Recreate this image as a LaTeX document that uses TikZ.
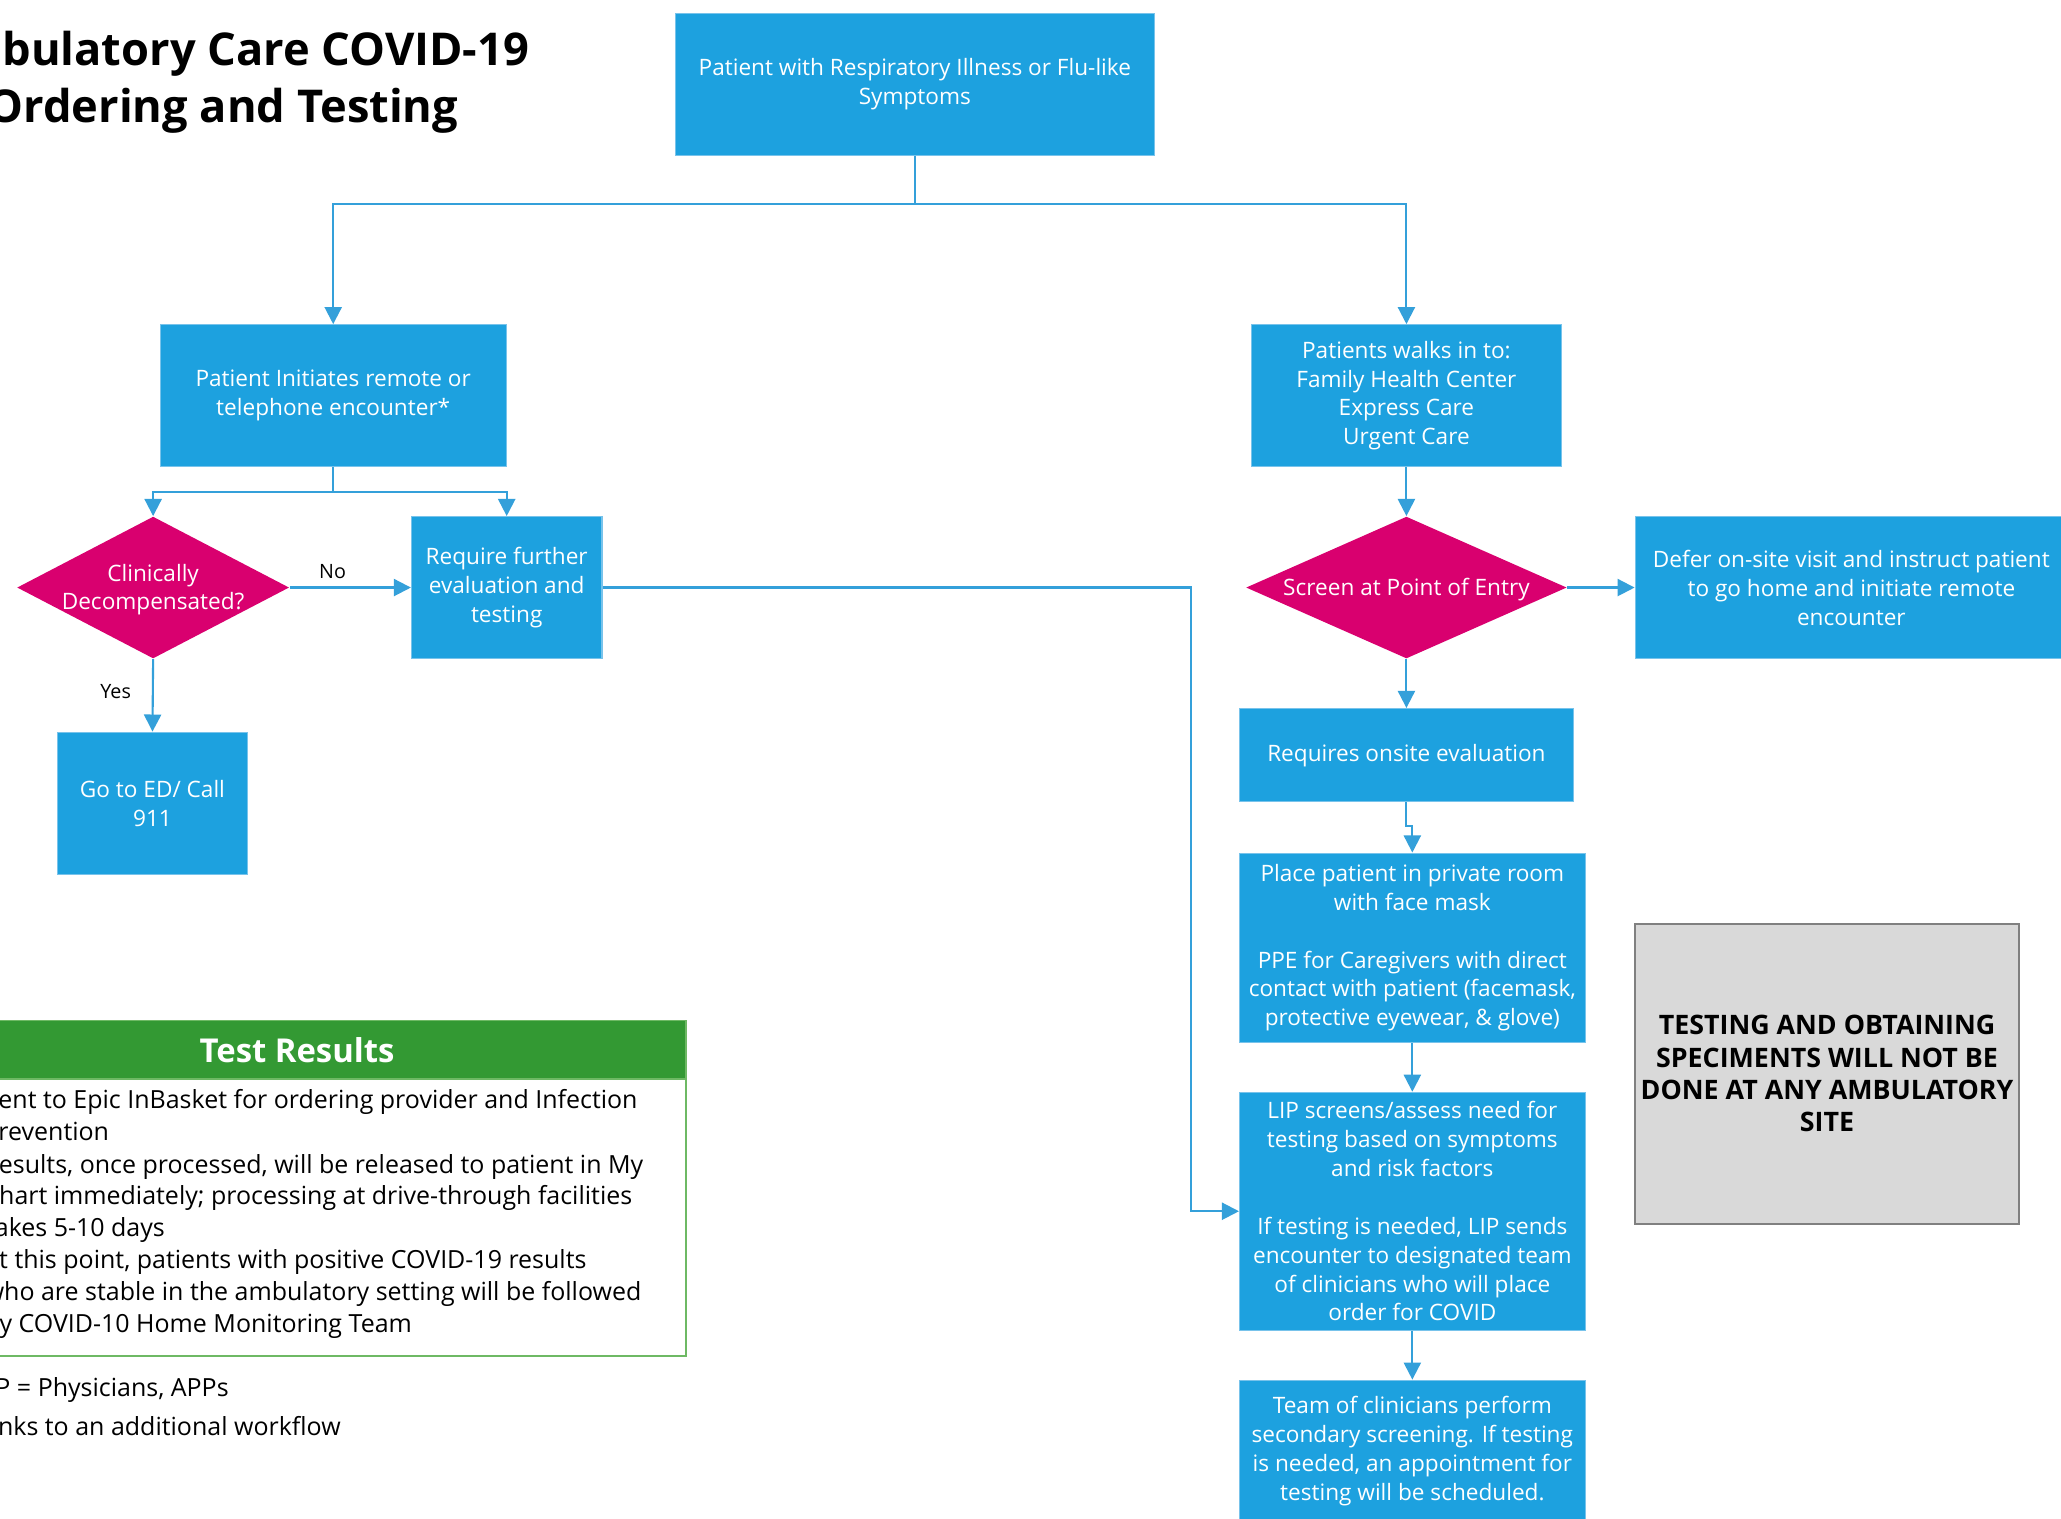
\documentclass[tikz,border=0pt]{standalone}
\usepackage{fontspec}
\setmainfont{Open Sans}
\usetikzlibrary{arrows.meta,shapes.geometric,calc}
\definecolor{boxblue}{RGB}{29,161,223}
\definecolor{boxedge}{RGB}{120,195,235}
\definecolor{dmag}{RGB}{217,0,111}
\definecolor{lineblue}{RGB}{52,160,218}
\definecolor{trgreen}{RGB}{51,153,51}
\definecolor{tredge}{RGB}{110,185,100}
\definecolor{grayfill}{RGB}{217,217,217}
\definecolor{grayedge}{RGB}{128,128,128}
\tikzset{
 proc/.style={rectangle, fill=boxblue, draw=boxedge, line width=0.4pt, text=white, align=center, inner sep=0pt, font=\fontsize{8.6}{11}\selectfont},
 dia/.style={diamond, fill=dmag, draw=none, inner sep=0pt},
 diatext/.style={text=white, align=center, inner sep=0pt, font=\fontsize{8.6}{11}\selectfont},
 conn/.style={draw=lineblue, line width=0.8pt},
 arr/.style={conn, -{Triangle[length=6.5pt,width=6.5pt]}},
 lbl/.style={text=black, inner sep=0pt, font=\fontsize{7.5}{9}\selectfont},
 trline/.style={anchor=base west, inner sep=0pt, text=black, font=\fontsize{9.5}{12}\selectfont},
 graybox/.style={rectangle, fill=grayfill, draw=grayedge, line width=0.8pt, text=black, align=center, inner sep=0pt, font=\bfseries\fontsize{10.2}{12.3}\selectfont},
 trhead/.style={rectangle, fill=trgreen, draw=tredge, line width=0.6pt, text=white, inner sep=0pt, font=\bfseries\fontsize{12.5}{14}\selectfont},
 trbody/.style={rectangle, fill=white, draw=tredge, line width=0.8pt, inner sep=0pt},
 titletext/.style={anchor=base east, inner sep=0pt, text=black, font=\bfseries\fontsize{17.2}{20}\selectfont}
}
\begin{document}
\begin{tikzpicture}[x=0.5pt,y=-0.5pt]
\clip (0,0) rectangle (1568,1155);
\fill[white] (0,0) rectangle (1568,1155);
% title
\node[titletext] (title1) at (403,50) {Ambulatory Care COVID-19};
\node[titletext] (title2) at (349,93) {Ordering and Testing};
% flow nodes
\node[proc, minimum width=182pt, minimum height=54pt] (top) at (696,64) {Patient with Respiratory Illness or Flu-like\\Symptoms};
\node[proc, minimum width=131.5pt, minimum height=54pt] (remote) at (253.5,301) {Patient Initiates remote or\\telephone encounter*};
\node[proc, minimum width=118pt, minimum height=54pt] (walkin) at (1070,301) {Patients walks in to:\\Family Health Center\\Express Care\\Urgent Care};
\node[dia, minimum width=103.5pt, minimum height=54pt] (clin) at (116.5,447) {};
\node[diatext] (clinT) at ([yshift=-0.8pt]clin.center) {Clinically\\Decompensated?};
\node[proc, minimum width=72.5pt, minimum height=54pt] (further) at (385.5,447) {Require further\\evaluation and\\testing};
\node[proc, minimum width=72pt, minimum height=54pt] (ed) at (116,611) {Go to ED/ Call\\911};
\node[dia, minimum width=122pt, minimum height=54pt] (screen) at (1070,447) {};
\node[diatext] (screenT) at ([yshift=-0.8pt]screen.center) {Screen at Point of Entry};
\node[proc, minimum width=164.5pt, minimum height=54pt] (defer) at (1408.5,447) {Defer on-site visit and instruct patient\\to go home and initiate remote\\encounter};
\node[proc, minimum width=127pt, minimum height=35.5pt] (onsite) at (1070,574.5) {Requires onsite evaluation};
\node[proc, minimum width=131.5pt, minimum height=72pt] (place) at (1074.5,721) {Place patient in private room\\with face mask\\[11pt]PPE for Caregivers with direct\\contact with patient (facemask,\\protective eyewear, \& glove)};
\node[proc, minimum width=131.5pt, minimum height=90.5pt] (lip) at (1074.5,921.5) {LIP screens/assess need for\\testing based on symptoms\\and risk factors\\[11pt]If testing is needed, LIP sends\\encounter to designated team\\of clinicians who will place\\order for COVID};
\node[proc, minimum width=131.5pt, minimum height=54pt] (team) at (1074.5,1104) {Team of clinicians perform\\secondary screening. If testing\\is needed, an appointment for\\testing will be scheduled.};
\node[graybox, minimum width=146pt, minimum height=114pt] (gray) at (1390,817) {TESTING AND OBTAINING\\SPECIMENTS WILL NOT BE\\DONE AT ANY AMBULATORY\\SITE};
% labels
\node[lbl] (noL) at (253,435) {No};
\node[lbl] (yesL) at (88,526) {Yes};
% connectors
\coordinate (b1) at (696,155);
\draw[conn] (top.south) -- (b1);
\draw[arr] (b1) -| (remote.north);
\draw[arr] (b1) -| (walkin.north);
\coordinate (b2) at (253.5,374);
\draw[conn] (remote.south) -- (b2);
\draw[arr] (b2) -| (clin.north);
\draw[arr] (b2) -| (further.north);
\draw[arr] (clin.east) -- (further.west);
\draw[arr] (clin.south) -- (ed.north);
\coordinate (bf) at (906,447);
\draw[arr] (further.east) -- (bf) |- (lip.west);
\draw[arr] (walkin.south) -- (screen.north);
\draw[arr] (screen.east) -- (defer.west);
\draw[arr] (screen.south) -- (onsite.north);
\draw[arr] (onsite.south) -- ++(0,18) -| (place.north);
\draw[arr] (place.south) -- (lip.north);
\draw[arr] (lip.south) -- (team.north);
% test results
\node[trbody, minimum width=296pt, minimum height=105.35pt] (trb) at (226,926.35) {};
\node[trhead, minimum width=296pt, minimum height=22.25pt] (trh) at (226,798.75) {Test Results};
\node[trline] (tr1) at (-12,843) {Sent to Epic InBasket for ordering provider and Infection};
\node[trline] (tr2) at (-13,867.8) {Prevention};
\node[trline] (tr3) at (-13,892.8) {Results, once processed, will be released to patient in My};
\node[trline] (tr4) at (-13,916.3) {Chart immediately; processing at drive-through facilities};
\node[trline] (tr5) at (-11,940.6) {takes 5-10 days};
\node[trline] (tr6) at (-13,965) {At this point, patients with positive COVID-19 results};
\node[trline] (tr7) at (-12,989.3) {who are stable in the ambulatory setting will be followed};
\node[trline] (tr8) at (-12,1013.7) {by COVID-10 Home Monitoring Team};
\node[trline] (fn1) at (-19,1062.6) {LIP = Physicians, APPs};
\node[trline] (fn2) at (-27,1091.8) {*Links to an additional workflow};
\end{tikzpicture}
\end{document}
